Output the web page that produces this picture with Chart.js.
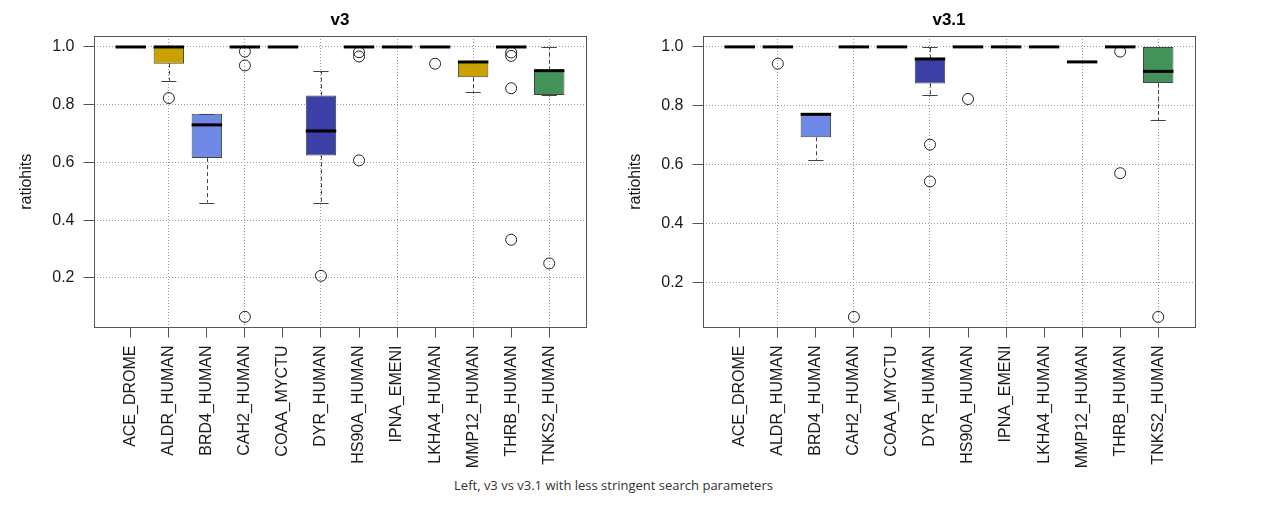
<!DOCTYPE html>
<html><head><meta charset="utf-8">
<script src="https://cdn.jsdelivr.net/npm/chart.js@4/dist/chart.umd.min.js"></script>
<style>
html,body{margin:0;padding:0;background:#fff;width:1262px;height:514px;overflow:hidden;}
body{position:relative;}
#c1{position:absolute;left:0;top:0;}
#c2{position:absolute;left:609px;top:0;}
#cap{position:absolute;left:0;width:1227px;top:476px;text-align:center;font-family:"Open Sans";font-size:13px;color:#333;white-space:nowrap;}
</style></head><body>
<canvas id="c1" width="609" height="470"></canvas>
<canvas id="c2" width="620" height="470"></canvas>
<div id="cap">Left, v3 vs v3.1 with less stringent search parameters</div>
<script>
const categories = ['ACE_DROME','ALDR_HUMAN','BRD4_HUMAN','CAH2_HUMAN','COAA_MYCTU','DYR_HUMAN','HS90A_HUMAN','IPNA_EMENI','LKHA4_HUMAN','MMP12_HUMAN','THRB_HUMAN','TNKS2_HUMAN'];
const yTicks = [0.2, 0.4, 0.6, 0.8, 1.0];

// v3 panel
const v3Low    = [1, 0.883, 0.461, 1, 1, 0.458, 1, 1, 1, 0.844, 1, 0.834];
const v3Q1     = [1, 0.942, 0.615, 1, 1, 0.624, 1, 1, 1, 0.895, 1, 0.834];
const v3Median = [1, 1.000, 0.730, 1, 1, 0.709, 1, 1, 1, 0.948, 1, 0.918];
const v3Q3     = [1, 1.000, 0.769, 1, 1, 0.832, 1, 1, 1, 0.948, 1, 0.918];
const v3High   = [1, 1.000, 0.769, 1, 1, 0.917, 1, 1, 1, 0.948, 1, 1.000];
const v3OutCat = ['ALDR_HUMAN','CAH2_HUMAN','CAH2_HUMAN','CAH2_HUMAN','DYR_HUMAN','HS90A_HUMAN','HS90A_HUMAN','HS90A_HUMAN','LKHA4_HUMAN','THRB_HUMAN','THRB_HUMAN','THRB_HUMAN','THRB_HUMAN','TNKS2_HUMAN'];
const v3OutVal = [0.823, 0.984, 0.936, 0.065, 0.207, 0.982, 0.967, 0.607, 0.942, 0.981, 0.969, 0.857, 0.332, 0.250];

// v3.1 panel
const v31Low    = [1, 1, 0.617, 1, 1, 0.835, 1, 1, 1, 0.949, 1, 0.752];
const v31Q1     = [1, 1, 0.693, 1, 1, 0.876, 1, 1, 1, 0.949, 1, 0.877];
const v31Median = [1, 1, 0.771, 1, 1, 0.959, 1, 1, 1, 0.949, 1, 0.917];
const v31Q3     = [1, 1, 0.771, 1, 1, 0.959, 1, 1, 1, 0.949, 1, 1.000];
const v31High   = [1, 1, 0.771, 1, 1, 1.000, 1, 1, 1, 0.949, 1, 1.000];
const v31OutCat = ['ALDR_HUMAN','CAH2_HUMAN','DYR_HUMAN','DYR_HUMAN','HS90A_HUMAN','THRB_HUMAN','THRB_HUMAN','TNKS2_HUMAN'];
const v31OutVal = [0.943, 0.083, 0.668, 0.543, 0.823, 0.984, 0.571, 0.083];

// styles
const boxColors = ['#ffffff','#C9A200','#6F8AE6','#ffffff','#ffffff','#3B3FA6','#ffffff','#ffffff','#ffffff','#C9A200','#ffffff','#429259'];
const FONT = 'Liberation Sans, Arial, sans-serif';

const boxExtras = {
  id: 'boxExtras',
  afterDatasetsDraw(chart, args, o) {
    const ctx = chart.ctx, xs = chart.scales.x, ys = chart.scales.y;
    const meta = chart.getDatasetMeta(0);
    ctx.save();
    for (let i = 0; i < categories.length; i++) {
      const x = xs.getPixelForValue(i + 1);
      const w = meta.data[i].width;
      const yl = ys.getPixelForValue(o.low[i]), y1 = ys.getPixelForValue(o.q1[i]);
      const y3 = ys.getPixelForValue(o.q3[i]), yh = ys.getPixelForValue(o.high[i]);
      const xc = Math.round(x) + 0.5;
      ctx.strokeStyle = '#444'; ctx.lineWidth = 1;
      ctx.setLineDash([4, 3]);
      ctx.beginPath();
      if (Math.abs(y1 - yl) > 0.5) { ctx.moveTo(xc, y1); ctx.lineTo(xc, yl); }
      if (Math.abs(y3 - yh) > 0.5) { ctx.moveTo(xc, y3); ctx.lineTo(xc, yh); }
      ctx.stroke();
      ctx.setLineDash([]);
      ctx.beginPath();
      ctx.moveTo(x - w / 4, Math.round(yl) + 0.5); ctx.lineTo(x + w / 4, Math.round(yl) + 0.5);
      ctx.moveTo(x - w / 4, Math.round(yh) + 0.5); ctx.lineTo(x + w / 4, Math.round(yh) + 0.5);
      ctx.stroke();
      const ym = ys.getPixelForValue(o.med[i]);
      ctx.strokeStyle = '#000'; ctx.lineWidth = 3;
      ctx.beginPath();
      ctx.moveTo(x - w / 2, ym); ctx.lineTo(x + w / 2, ym);
      ctx.stroke();
    }
    ctx.restore();
  },
  afterDraw(chart) {
    const {ctx, chartArea: a} = chart;
    ctx.save();
    ctx.strokeStyle = '#555'; ctx.lineWidth = 1;
    ctx.strokeRect(Math.round(a.left) + 0.5, Math.round(a.top) + 0.5, Math.round(a.right - a.left) - 1, Math.round(a.bottom - a.top) - 1);
    ctx.restore();
  }
};

function makeChart(id, title, low, q1, med, q3, high, outCat, outVal, ymin, ymax, canvasH) {
  const boxData = categories.map((c, i) => ({x: i + 1, y: [q1[i], q3[i]]}));
  const outData = outCat.map((c, i) => ({x: categories.indexOf(c) + 1, y: outVal[i]}));
  return new Chart(document.getElementById(id), {
    type: 'bar',
    data: {
      datasets: [
        {type: 'bar', data: boxData, backgroundColor: boxColors, borderColor: '#444', borderWidth: 1,
         borderSkipped: false, categoryPercentage: 1, barPercentage: 0.8},
        {type: 'scatter', data: outData, pointStyle: 'circle', pointRadius: 5.5, borderWidth: 1,
         borderColor: '#222', backgroundColor: 'rgba(0,0,0,0)'}
      ]
    },
    options: {
      responsive: false, animation: false, events: [],
      layout: {padding: {left: 0, right: (id === 'c1' ? 609 : 620) - 586.5, top: 0, bottom: 0}},
      plugins: {
        legend: {display: false}, tooltip: {enabled: false},
        title: {display: true, text: title, fullSize: false, color: '#000',
                font: {family: FONT, size: 17, weight: 'bold', lineHeight: 1.2},
                padding: {top: 10.5, bottom: 5.1}},
        boxExtras: {low, q1, med, q3, high}
      },
      scales: {
        x: {
          type: 'linear', min: 0.02, max: 12.98, offset: false, z: 1,
          afterBuildTicks: s => { s.ticks = categories.map((c, i) => ({value: i + 1})); },
          afterFit: s => { s.height = canvasH - 327.5; },
          ticks: {autoSkip: false, maxRotation: 90, minRotation: 90, padding: 8, color: '#1a1a1a',
                  font: {family: FONT, size: 16},
                  callback: v => categories[Math.round(v) - 1]},
          grid: {offset: false, drawTicks: true, tickLength: 10, tickColor: '#555', tickBorderDash: [],
                 lineWidth: 1,
                 color: c => (c.tick && Math.round(c.tick.value) % 2 === 0) ? '#9a9a9a' : 'rgba(0,0,0,0)'},
          border: {display: false, dash: [1, 2]}
        },
        y: {
          type: 'linear', min: ymin, max: ymax, z: 1,
          afterBuildTicks: s => { s.ticks = yTicks.map(v => ({value: v})); },
          afterFit: s => { s.width = 93.5; },
          ticks: {padding: 9, color: '#1a1a1a', font: {family: FONT, size: 16},
                  callback: v => Number(v).toFixed(1)},
          grid: {drawTicks: true, tickLength: 10, tickColor: '#555', tickBorderDash: [], color: '#9a9a9a', lineWidth: 1},
          border: {display: false, dash: [1, 2]},
          title: {display: true, text: 'ratiohits', color: '#1a1a1a', font: {family: FONT, size: 16},
                  padding: {top: 17, bottom: 0}}
        }
      }
    },
    plugins: [boxExtras]
  });
}

makeChart('c1', 'v3', v3Low, v3Q1, v3Median, v3Q3, v3High, v3OutCat, v3OutVal, 0.028, 1.038, 470);
makeChart('c2', 'v3.1', v31Low, v31Q1, v31Median, v31Q3, v31High, v31OutCat, v31OutVal, 0.047, 1.037, 470);
</script>
</body></html>
